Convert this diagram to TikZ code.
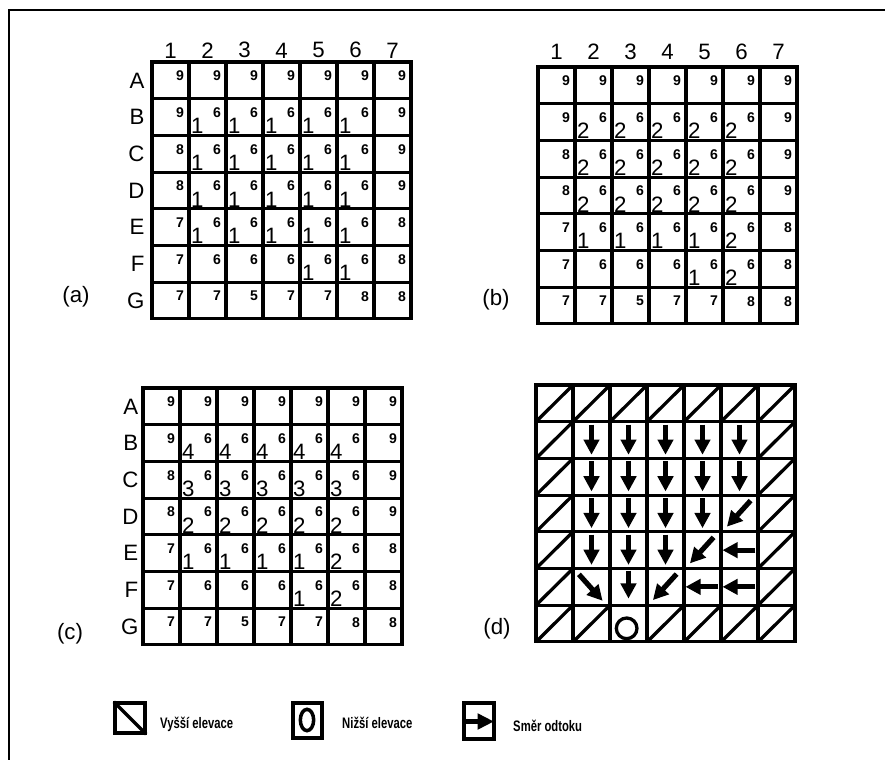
\documentclass[tikz,border=0pt]{standalone}
\usepackage{fontspec}
\setmainfont{Liberation Sans}
\newfontfamily\legendfont[FakeStretch=0.74]{Liberation Sans}
\usetikzlibrary{arrows.meta}
\tikzset{
  cellline/.style={line width=2.7pt, line cap=rect},
  slope/.style={line width=2.8pt},
  elev/.style={font=\fontsize{12}{12}\selectfont\bfseries, anchor=north east, inner sep=0pt},
  accum/.style={font=\fontsize{19}{19}\selectfont, anchor=south west, inner sep=0pt},
  gridlabel/.style={font=\fontsize{19}{19}\selectfont, inner sep=0pt},
  flow/.style={line width=4.4pt, -{Triangle[length=13pt,width=13pt]}},
  legendbox/.style={line width=3pt, line cap=rect},
  legendtext/.style={font=\legendfont\bfseries\fontsize{13}{13}\selectfont, anchor=west, inner sep=0pt}
}
\newcommand{\cellgrid}{%
  \foreach \k in {0,...,7} {
    \draw[cellline] (\k,0) -- (\k,7);
    \draw[cellline] (0,\k) -- (7,\k);
  }}
\newcommand{\collabels}[2]{%
  \foreach \col in {1,...,7}
    \node[gridlabel, anchor=south] (#1-col\col) at (\col-0.5,-#2) {\col};}
\newcommand{\rowlabels}[2]{%
  \foreach \lett [count=\rw] in {A,B,C,D,E,F,G}
    \node[gridlabel, anchor=east] (#1-row\lett) at (-#2,\rw-0.5) {\lett};}
\newcommand{\elevations}[1]{%
  \foreach \vals [count=\rw] in {{9,9,9,9,9,9,9},{9,6,6,6,6,6,9},{8,6,6,6,6,6,9},{8,6,6,6,6,6,9},{7,6,6,6,6,6,8},{7,6,6,6,6,6,8},{7,7,5,7,7,8,8}}
    \foreach \v [count=\col] in \vals
      \node[elev] (#1-e\rw\col) at (\col-0.13,\rw-0.76) {\v};}
\newcommand{\acc}[4]{\node[accum] (#1-a#3#2) at (#2-0.95,#3-0.04) {#4};}

\begin{document}
\begin{tikzpicture}[x=0.03cm, y=-0.03cm]
  \useasboundingbox (0,0) rectangle (885,760);
  \draw[line width=1.6pt] (9,760) -- (9,10) -- (885,10);

  % (a)
  \begin{scope}[shift={(152,62)}, x=1.11cm, y=-1.101cm]
    \cellgrid
    \collabels{a}{0.1}
    \rowlabels{a}{0.2}
    \elevations{a}
    \foreach \rw in {2,...,5} \foreach \col in {2,...,6} {\acc{a}{\col}{\rw}{1}}
    \acc{a}{5}{6}{1}
    \acc{a}{6}{6}{1}
  \end{scope}
  \node[gridlabel] (lbl-a) at (76,297) {(a)};

  % (b)
  \begin{scope}[shift={(538,67)}, x=1.11cm, y=-1.101cm]
    \cellgrid
    \collabels{b}{0.2}
    \elevations{b}
    \foreach \rw in {2,...,4} \foreach \col in {2,...,6} {\acc{b}{\col}{\rw}{2}}
    \foreach \col in {2,...,5} {\acc{b}{\col}{5}{1}}
    \acc{b}{6}{5}{2}
    \acc{b}{5}{6}{1}
    \acc{b}{6}{6}{2}
  \end{scope}
  \node[gridlabel] (lbl-b) at (496,300) {(b)};

  % (c)
  \begin{scope}[shift={(143,388)}, x=1.11cm, y=-1.101cm]
    \cellgrid
    \rowlabels{c}{0.12}
    \elevations{c}
    \foreach \rw/\v in {2/4,3/3,4/2} \foreach \col in {2,...,6} {\acc{c}{\col}{\rw}{\v}}
    \foreach \col in {2,...,5} {\acc{c}{\col}{5}{1}}
    \acc{c}{6}{5}{2}
    \acc{c}{5}{6}{1}
    \acc{c}{6}{6}{2}
  \end{scope}
  \node[gridlabel] (lbl-c) at (70,634) {(c)};

  % (d)
  \begin{scope}[shift={(536,385)}, x=1.11cm, y=-1.101cm]
    \cellgrid
    \foreach \col in {1,...,7} \draw[slope] (\col-1,1) -- (\col,0);
    \foreach \col in {1,2,4,5,6,7} \draw[slope] (\col-1,7) -- (\col,6);
    \foreach \rw in {2,...,6} {
      \draw[slope] (0,\rw) -- (1,\rw-1);
      \draw[slope] (6,\rw) -- (7,\rw-1);
    }
    \foreach \rw/\last in {2/6,3/6,4/5,5/4} \foreach \col in {2,...,\last}
      \draw[flow] (\col-0.5,\rw-0.92) -- (\col-0.5,\rw-0.1);
    \draw[flow] (2.5,5.06) -- (2.5,5.82);
    \foreach \col/\rw in {6/4,5/5,4/6}
      \draw[flow] (\col-0.2,\rw-0.85) -- (\col-0.84,\rw-0.14);
    \foreach \col/\rw in {6/5,5/6,6/6}
      \draw[flow] (\col-0.07,\rw-0.5) -- (\col-0.96,\rw-0.5);
    \draw[flow] (1.16,5.16) -- (1.8,5.88);
    \draw[slope] (2.45,6.63) circle[radius=0.31cm];
  \end{scope}
  \node[gridlabel] (lbl-d) at (497,629) {(d)};

  % Legend
  \draw[legendbox] (115,703) rectangle (145,733);
  \draw[legendbox] (115,703) -- (145,733);
  \node[legendtext] (leg-high) at (160,724) {Vyšší elevace};
  \draw[legendbox] (293,703) rectangle (322,738);
  \draw[legendbox] (307,720) ellipse[x radius=0.2cm, y radius=0.32cm];
  \node[legendtext] (leg-low) at (342,722.5) {Nižší elevace};
  \draw[legendbox] (464,703) rectangle (494,739);
  \draw[flow, -{Triangle[length=14pt,width=13pt]}] (464,721.5) -- (494,721.5);
  \node[legendtext] (leg-flow) at (513,726) {Směr odtoku};
\end{tikzpicture}
\end{document}
